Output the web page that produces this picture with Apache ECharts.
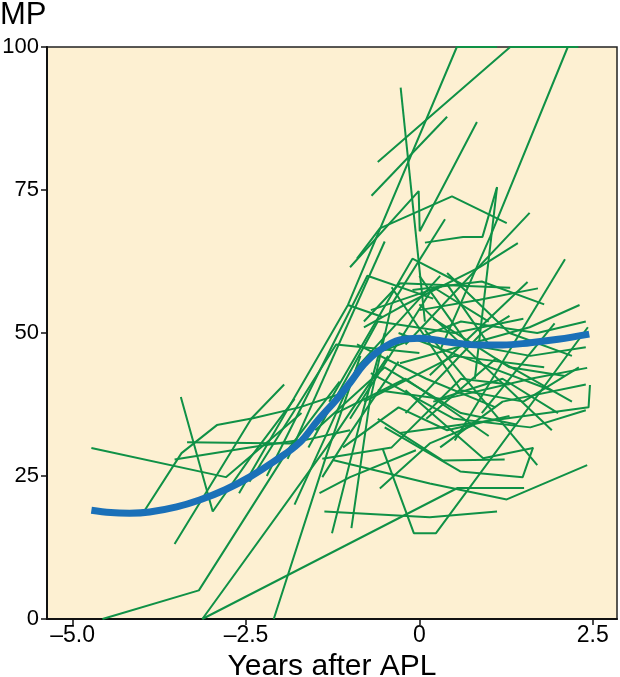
<!DOCTYPE html>
<html><head><meta charset="utf-8">
<script src="https://cdn.jsdelivr.net/npm/echarts@6/dist/echarts.min.js"></script>
<style>html,body{margin:0;padding:0;background:#fff}#c{width:620px;height:677px}</style>
</head><body><div id="c"></div>
<script>
// Tick values / labels
const xTickValues = [-5, -2.5, 0, 2.5];
const xTickLabels = ['–5.0', '–2.5', '0', '2.5'];
const yTickValues = [0, 25, 50, 75, 100];

// Mean (smoothed) curve
const meanCurveX = [-4.73, -4.45, -4.18, -3.89, -3.5, -3.17, -2.8, -2.45, -2.1, -1.73, -1.46, -1.2, -1.0, -0.8, -0.57, -0.28, 0.0, 0.44, 0.87, 1.2, 1.6, 2.0, 2.45];
const meanCurveY = [19.0, 18.6, 18.5, 18.7, 19.6, 20.8, 22.6, 24.8, 27.5, 30.8, 34.8, 38.3, 41.3, 44.5, 47.0, 48.8, 49.1, 48.4, 47.9, 47.9, 48.3, 48.9, 49.8];

// Individual patient trajectories [years, MP]
const g01 = [[-4.73,29.9],[-2.79,24.8],[-1.70,36.0]];
const g02 = [[-4.57,0],[-3.18,5.0],[-1.87,30.0],[-1.15,41.5]];
const g03 = [[-3.13,0],[0.55,22.9],[1.51,22.9]];
const g04 = [[-3.13,0],[-1.34,30.0],[-0.45,46.0]];
const g05 = [[-2.10,0],[-1.33,29.0],[-0.85,46.0]];
const g06 = [[-3.53,13.1],[-2.42,35.1],[-1.95,41.0]];
const g07 = [[-3.44,38.8],[-2.98,18.8],[-2.45,28.0],[-1.80,38.5]];
const g08 = [[-3.96,19.0],[-3.43,29.0],[-2.92,33.9],[-2.40,35.1],[-1.73,37.0],[-1.10,39.5]];
const g09 = [[-3.35,30.9],[-1.87,30.7],[-1.00,33.0]];
const g10 = [[-3.53,27.9],[-2.45,30.0],[-1.60,31.5]];
const g11 = [[-1.37,18.8],[0.15,17.8],[1.12,18.8]];
const g12 = [[-1.25,27.8],[0.15,23.7],[1.26,20.9],[2.42,26.9]];
const g13 = [[-0.53,29.8],[-0.08,15.0],[0.24,15.0],[2.43,51.0]];
const g14 = [[0.08,50.5],[1.70,26.9]];
const g15 = [[0.00,55.0],[1.91,33.0]];
const g16 = [[-0.28,32.5],[2.44,37.0],[2.46,40.9]];
const g17 = [[-0.50,33.5],[0.59,25.8],[1.49,24.8],[1.64,30.0]];
const g18 = [[-0.60,35.0],[0.34,27.7],[1.23,27.9]];
const g19 = [[-0.20,40.0],[0.92,28.1],[1.64,29.9]];
const g20 = [[-1.03,54.9],[0.54,100],[1.12,100]];
const g21 = [[-0.60,79.9],[1.31,100],[2.29,100]];
const g22 = [[0.30,47.0],[1.02,66.8],[2.14,100],[2.29,100]];
const g23 = [[-0.69,74.0],[0.40,87.8]];
const g24 = [[-1.00,61.5],[-0.01,74.8],[0.005,67.8],[0.83,86.9]];
const g25 = [[-0.90,63.0],[-0.57,68.3],[0.47,73.9],[1.26,69.2]];
const g26 = [[-0.27,92.9],[0.08,52.0]];
const g27 = [[0.08,65.8],[0.63,66.8],[0.91,66.8],[1.12,75.5]];
const g28 = [[0.80,42.0],[1.12,75.5]];
const g29 = [[-0.40,55.0],[0.37,69.9]];
const g30 = [[-0.20,48.0],[1.59,71.0]];
const g31 = [[-0.80,51.0],[-0.28,54.5],[0.87,61.5],[1.42,65.7]];
const g32 = [[0.51,31.2],[2.10,62.9]];
const g33 = [[-0.28,44.7],[1.59,51.0],[2.31,54.9]];
const g34 = [[0.90,36.0],[1.95,51.7]];
const g35 = [[0.00,54.0],[0.87,55.8],[1.71,57.8]];
const g36 = [[0.15,42.6],[1.56,58.9]];
const g37 = [[-0.80,52.0],[-0.28,58.7],[1.31,57.9]];
const g38 = [[0.20,38.0],[1.64,42.1],[2.42,43.9]];
const g39 = [[-2.60,22.0],[-1.03,54.9],[-0.53,52.8]];
const g40 = [[-2.20,25.0],[-0.75,60.0],[0.20,56.0]];
const g41 = [[-1.90,28.0],[-0.50,66.0]];
const g42 = [[-2.45,24.0],[-1.20,48.0],[0.00,46.5]];
const g43 = [[-1.80,20.0],[-0.90,44.0],[0.30,60.0]];
const g44 = [[-1.00,35.0],[0.20,58.0],[1.00,52.0]];
const g45 = [[-0.80,38.0],[0.50,46.0],[1.80,44.0]];
const g46 = [[-0.40,58.0],[0.60,40.0],[1.50,38.0],[2.30,44.0]];
const g47 = [[-1.20,36.0],[-0.20,42.0],[1.00,32.0]];
const g48 = [[-0.60,40.0],[0.30,38.5],[1.20,42.0],[2.00,36.0]];
const g49 = [[-0.30,50.0],[0.80,45.0],[1.90,40.0]];
const g50 = [[-1.50,33.0],[-0.50,44.0],[0.60,36.0],[1.40,34.0]];
const g51 = [[0.00,60.0],[0.70,48.0],[1.60,46.0],[2.40,47.5]];
const g52 = [[-0.90,48.0],[0.10,42.0],[1.10,37.0]];
const g53 = [[-0.20,36.0],[0.90,50.0],[1.30,53.0]];
const g54 = [[-1.10,30.0],[-0.30,37.0],[0.40,33.0],[1.30,35.5]];
const g55 = [[0.20,52.5],[1.30,44.0],[2.10,42.5]];
const g56 = [[-0.70,54.0],[0.40,58.5],[1.00,48.0]];
const g57 = [[-1.40,28.0],[-0.40,30.0],[0.60,42.0],[1.30,41.0]];
const g58 = [[-1.44,22.0],[-1.00,24.8],[-0.05,29.5]];
const g59 = [[-1.26,15.0],[-0.83,35.6],[-0.50,50.0]];
const g60 = [[-0.98,15.9],[-0.72,37.7],[-0.40,55.0]];
const g61 = [[-0.57,22.8],[0.15,30.7],[0.80,34.0]];
const g62 = [[-1.40,24.8],[-1.00,32.5],[-0.30,45.0]];
const g63 = [[-1.60,30.0],[-0.60,52.0],[0.50,50.0],[1.50,52.5]];
const g64 = [[0.10,35.0],[1.10,45.5],[2.20,38.0]];
const g65 = [[-0.50,47.0],[0.60,52.0],[1.70,50.0],[2.40,52.0]];
const g66 = [[0.40,60.5],[1.30,50.0],[2.20,46.0]];
const g67 = [[-1.30,38.0],[-0.10,63.0],[0.70,58.0]];
const g68 = [[0.30,30.0],[1.20,38.0],[2.40,41.0]];
const g69 = [[-0.70,43.0],[0.50,35.0],[1.60,33.5],[2.40,36.5]];
const g70 = [[-0.10,57.5],[0.90,59.0],[1.80,55.0]];

const trajectories = [g01,g02,g03,g04,g05,g06,g07,g08,g09,g10,g11,g12,g13,g14,g15,g16,g17,g18,g19,g20,
  g21,g22,g23,g24,g25,g26,g27,g28,g29,g30,g31,g32,g33,g34,g35,g36,g37,g38,g39,g40,
  g41,g42,g43,g44,g45,g46,g47,g48,g49,g50,g51,g52,g53,g54,g55,g56,g57,g58,g59,g60,
  g61,g62,g63,g64,g65,g66,g67,g68,g69,g70];

const FONT = '"Liberation Sans", Arial, Helvetica, sans-serif';
const GREEN = '#0f9146';
const BLUE = '#1a70b8';

const series = trajectories.map(function (t) {
  return {
    type: 'line', data: t, showSymbol: false, symbol: 'none', silent: true,
    lineStyle: { color: GREEN, width: 2 }, z: 2, clip: true, animation: false
  };
});
series.push({
  type: 'line', data: meanCurveX.map(function (x, i) { return [x, meanCurveY[i]]; }),
  showSymbol: false, symbol: 'none', smooth: 0.4, silent: true,
  lineStyle: { color: BLUE, width: 7, cap: 'butt' }, z: 5, animation: false
});

const chart = echarts.init(document.getElementById('c'), null, { renderer: 'canvas' });
chart.setOption({
  animation: false,
  backgroundColor: '#ffffff',
  title: { text: 'MP', left: 0, top: 0, padding: 0,
    textStyle: { fontFamily: FONT, fontSize: 31, fontWeight: 'normal', color: '#000' } },
  grid: { left: 47, right: 3, top: 47, bottom: 58, containLabel: false, outerBoundsMode: 'none',
    show: true, backgroundColor: '#fdf0d2', borderColor: '#222', borderWidth: 1.5 },
  xAxis: {
    type: 'value', min: -5.37, max: 2.85,
    name: 'Years after APL', nameLocation: 'middle', nameGap: 30,
    nameTextStyle: { fontFamily: FONT, fontSize: 30, color: '#000' },
    axisLine: { show: true, onZero: false, lineStyle: { color: '#111', width: 2 } },
    axisTick: { show: true, customValues: xTickValues, length: 6, lineStyle: { color: '#111', width: 1.5 } },
    axisLabel: { customValues: xTickValues, fontFamily: FONT, fontSize: 23, color: '#000', margin: 5,
      formatter: function (v) { const i = xTickValues.indexOf(v); return i >= 0 ? xTickLabels[i] : ''; } },
    splitLine: { show: false }
  },
  yAxis: {
    type: 'value', min: 0, max: 100, interval: 25,
    axisLine: { show: true, onZero: false, lineStyle: { color: '#111', width: 2 } },
    axisTick: { show: true, customValues: yTickValues, length: 6, lineStyle: { color: '#111', width: 1.5 } },
    axisLabel: { customValues: yTickValues, fontFamily: FONT, fontSize: 22, color: '#000', margin: 8 },
    splitLine: { show: false }
  },
  series: series
});
</script>
</body></html>
